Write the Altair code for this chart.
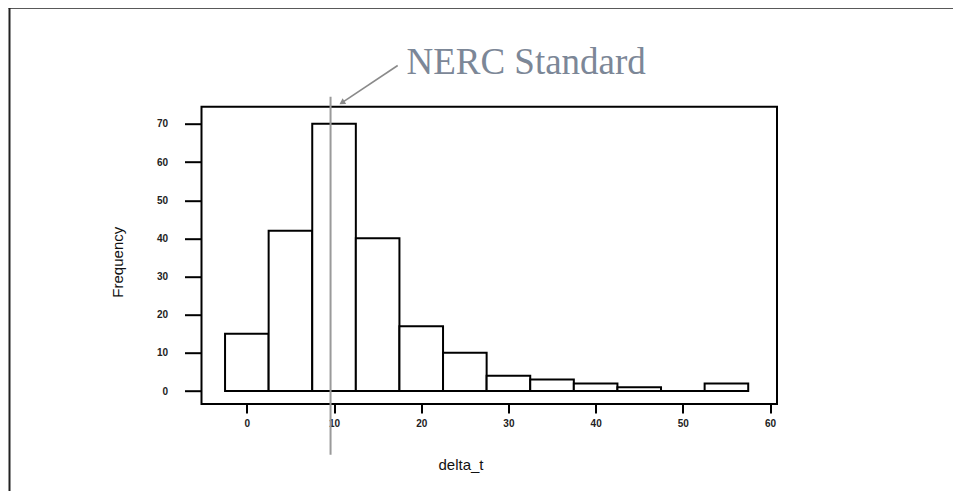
import altair as alt
import pandas as pd

# Histogram data (bin width 5, centred on multiples of 5)
bin_starts = [-2.5, 2.5, 7.5, 12.5, 17.5, 22.5, 27.5, 32.5, 37.5, 42.5, 47.5, 52.5]
bin_width = 5
frequencies = [15, 42, 70, 40, 17, 10, 4, 3, 2, 1, 0, 2]

x_ticks = [0, 10, 20, 30, 40, 50, 60]
y_ticks = [0, 10, 20, 30, 40, 50, 60, 70]

# NERC standard marker and its annotation (data coordinates)
nerc_value = [9.6]
label_text = ["NERC Standard"]
label_x = [18.3]
label_y = [83.0]
arrow_tail_x = [17.3]
arrow_tail_y = [85.3]
arrow_head_x = [11.0]
arrow_head_y = [75.7]

x_domain = [-5.2, 60.8]
y_domain = [-3.4, 74.5]

bars = pd.DataFrame({
    "start": bin_starts,
    "end": [s + bin_width for s in bin_starts],
    "freq": frequencies,
    "zero": [0] * len(bin_starts),
})

xs = alt.Scale(domain=x_domain, nice=False, zero=False)
ys = alt.Scale(domain=y_domain, nice=False, zero=False)

x_axis = alt.Axis(values=x_ticks, title="delta_t", grid=False, domain=False,
                  tickSize=9, tickWidth=2, tickColor="black",
                  labelFont="Liberation Sans", labelFontSize=10, labelFontWeight="bold",
                  labelColor="#222", labelPadding=5,
                  titleFont="Liberation Sans", titleFontSize=15, titleFontWeight="normal",
                  titleColor="#111", titleX=259, titleY=60, titleAnchor="middle",
                  titleAlign="center", titleBaseline="middle")
y_axis = alt.Axis(values=y_ticks, title="Frequency", grid=False, domain=False,
                  tickSize=17, tickWidth=2, tickColor="black",
                  labelFont="Liberation Sans", labelFontSize=10, labelFontWeight="bold",
                  labelColor="#222", labelPadding=17,
                  titleFont="Liberation Sans", titleFontSize=15, titleFontWeight="normal",
                  titleColor="#111", titleX=-84, titleY=155, titleAngle=-90,
                  titleAlign="center", titleBaseline="middle")

hist = alt.Chart(bars).mark_rect(fill="white", stroke="black", strokeWidth=2).encode(
    x=alt.X("start:Q", scale=xs, axis=x_axis),
    x2="end:Q",
    y=alt.Y("zero:Q", scale=ys, axis=y_axis),
    y2="freq:Q",
)

nerc_df = pd.DataFrame({"v": nerc_value})
nerc_line = alt.Chart(nerc_df).mark_rule(color="#9a9a9a", strokeWidth=2).encode(
    x=alt.X("v:Q", scale=xs),
    y=alt.value(-10),
    y2=alt.value(348),
)

arrow_df = pd.DataFrame({"x1": arrow_tail_x, "y1": arrow_tail_y,
                         "x2": arrow_head_x, "y2": arrow_head_y})
arrow_line = alt.Chart(arrow_df).mark_rule(color="#8a8a8a", strokeWidth=1.6).encode(
    x=alt.X("x1:Q", scale=xs), y=alt.Y("y1:Q", scale=ys),
    x2="x2:Q", y2="y2:Q",
)
arrow_head = alt.Chart(arrow_df).mark_point(
    shape="triangle", filled=True, color="#8a8a8a", size=45, angle=237.5, opacity=1
).encode(
    x=alt.X("x2:Q", scale=xs), y=alt.Y("y2:Q", scale=ys),
)

label_df = pd.DataFrame({"t": label_text, "x": label_x, "y": label_y})
label = alt.Chart(label_df).mark_text(
    font="Liberation Serif", fontSize=37, color="#7c8797", align="left",
    baseline="alphabetic"
).encode(
    x=alt.X("x:Q", scale=xs), y=alt.Y("y:Q", scale=ys), text="t:N",
)

frame_src = alt.Data(values=[{"k": 1}])
outer_top = alt.Chart(frame_src).mark_rule(color="#222", strokeWidth=2).encode(
    x=alt.value(-193), x2=alt.value(762), y=alt.value(-99),
)
outer_left = alt.Chart(frame_src).mark_rule(color="#222", strokeWidth=2).encode(
    x=alt.value(-192), y=alt.value(-100), y2=alt.value(395),
)

chart = alt.layer(
    outer_top, outer_left, hist, nerc_line, arrow_line, arrow_head, label
).properties(
    width=575.5, height=297.3,
    autosize=alt.AutoSizeParams(type="none"),
    padding={"left": 193.5, "top": 98.7, "right": 176, "bottom": 87},
    background="white",
).configure_view(stroke="black", strokeWidth=2)

chart.save("out.html", embed_options={"renderer": "svg", "actions": False})
